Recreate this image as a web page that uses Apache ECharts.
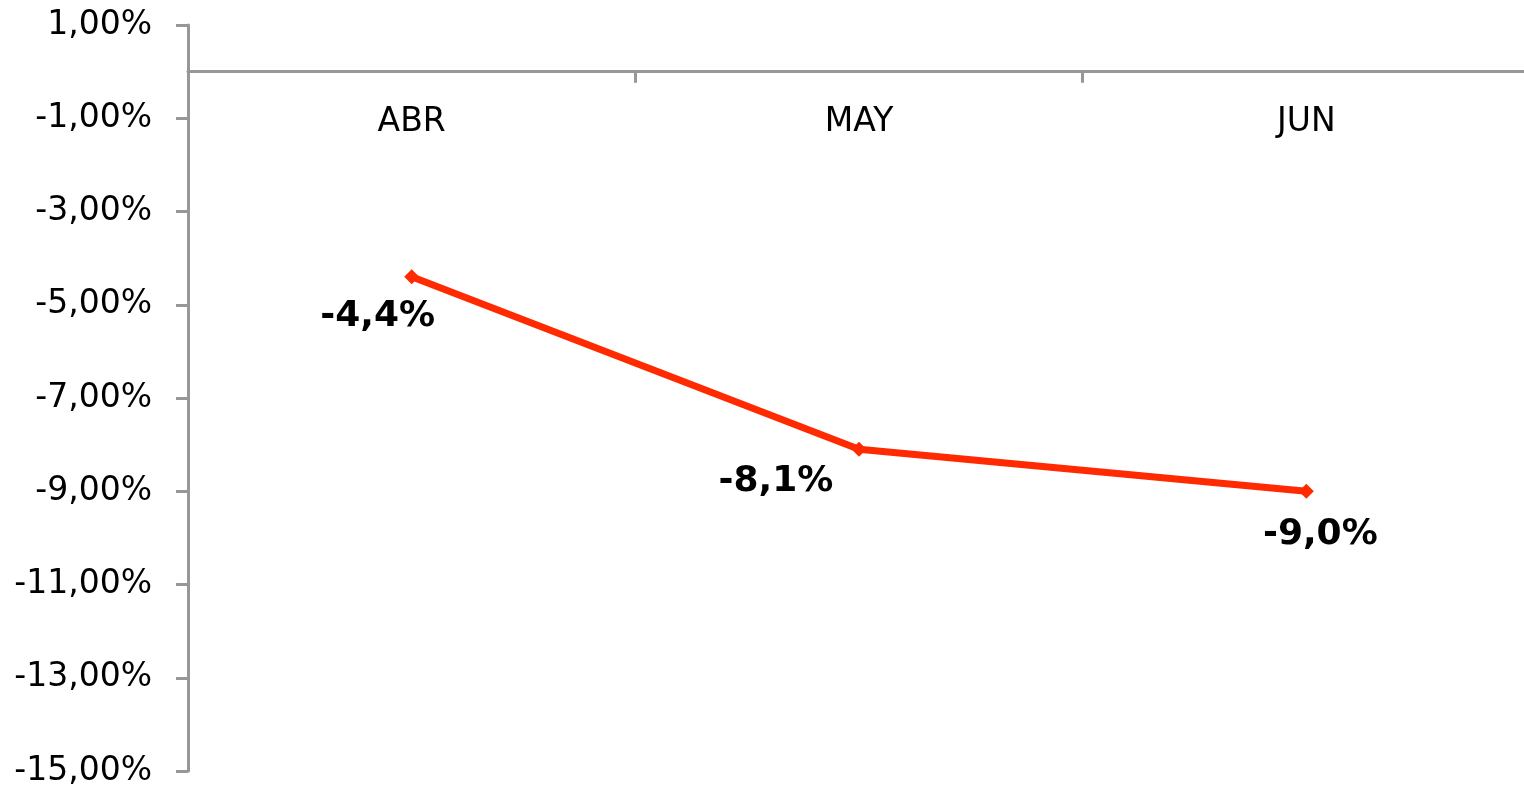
<!DOCTYPE html>
<html>
<head>
<meta charset="utf-8">
<script src="https://cdn.jsdelivr.net/npm/echarts@6/dist/echarts.min.js"></script>
<style>
html,body{margin:0;padding:0;background:#fff;}
#chart{width:1524px;height:794px;}
</style>
</head>
<body>
<div id="chart"></div>
<script>
const categories = ['ABR', 'MAY', 'JUN'];
const values = [-4.4, -8.1, -9.0];
const yTicks = { min: -15, max: 1, interval: 2 };

const labelOffsets = [[-34, 40], [-83, 32], [14, 43]];

const chart = echarts.init(document.getElementById('chart'));
const fmt = v => v.toFixed(2).replace('.', ',') + '%';

const gridTop = 25, gridBottom = 23, H = 794;
const zeroOffset = (H - gridTop - gridBottom) * (yTicks.max - 0) / (yTicks.max - yTicks.min);

chart.setOption({
  animation: false,
  backgroundColor: '#ffffff',
  grid: { left: 188, top: gridTop, bottom: gridBottom, right: -6, containLabel: false, outerBoundsMode: 'none' },
  xAxis: {
    type: 'category',
    data: categories,
    position: 'top',
    offset: -zeroOffset,
    boundaryGap: true,
    axisLine: { onZero: false, lineStyle: { color: '#979797', width: 3 } },
    axisTick: { show: true, inside: true, length: 11, lineStyle: { color: '#979797', width: 3 } },
    axisLabel: { inside: true, color: '#000', fontFamily: 'DejaVu Sans', fontSize: 33, margin: 34 },
    splitLine: { show: false }
  },
  yAxis: {
    type: 'value',
    min: yTicks.min,
    max: yTicks.max,
    interval: yTicks.interval,
    axisLine: { show: true, onZero: false, lineStyle: { color: '#979797', width: 3 } },
    axisTick: { show: true, length: 12, lineStyle: { color: '#979797', width: 3 } },
    axisLabel: { color: '#000', fontFamily: 'DejaVu Sans', fontSize: 33, margin: 36, formatter: fmt },
    splitLine: { show: false }
  },
  series: [{
    type: 'line',
    data: values.map((v, i) => ({
      value: v,
      label: { offset: labelOffsets[i] }
    })),
    symbol: 'diamond',
    symbolSize: 15,
    showAllSymbol: true,
    lineStyle: { color: '#ff2a00', width: 7 },
    itemStyle: { color: '#ff2a00' },
    label: {
      show: true,
      position: 'inside',
      color: '#000',
      fontFamily: 'DejaVu Sans',
      fontWeight: 'bold',
      fontSize: 36,
      formatter: p => p.value.toFixed(1).replace('.', ',') + '%'
    }
  }]
});
</script>
</body>
</html>
